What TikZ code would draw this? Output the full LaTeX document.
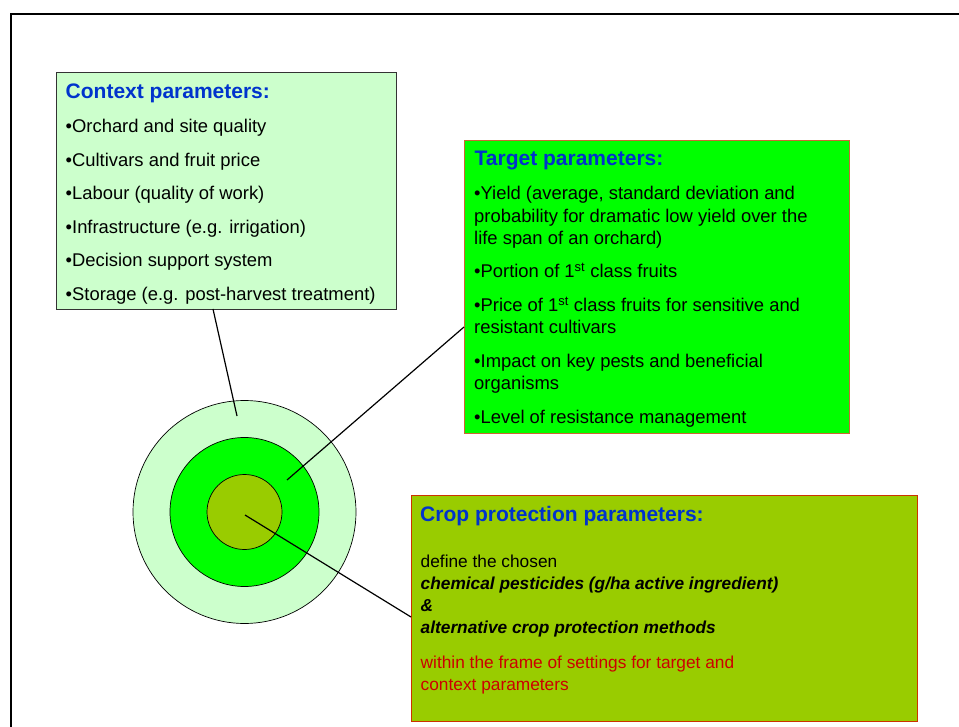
\documentclass[tikz,border=0pt]{standalone}
\usepackage{fontspec}
\setmainfont{Liberation Sans}
\definecolor{paleg}{HTML}{CCFFCC}
\definecolor{brightg}{HTML}{00FF00}
\definecolor{oliveg}{HTML}{99CC00}
\definecolor{titleblue}{HTML}{0033CC}
\definecolor{framered}{HTML}{CC3300}
\definecolor{framebrown}{HTML}{CC6633}
\definecolor{textred}{HTML}{CC0000}
\tikzset{
  box/.style={draw,rectangle,inner sep=0pt,line width=0.8pt},
  ring/.style={draw,circle,inner sep=0pt,line width=0.7pt},
  title/.style={anchor=base west,inner sep=0pt,text=titleblue,font=\fontsize{21}{25}\selectfont\bfseries},
  item/.style={anchor=base west,inner sep=0pt,font=\fontsize{18.4}{22.5}\selectfont},
  crop/.style={anchor=base west,inner sep=0pt,font=\fontsize{17.3}{21.5}\selectfont},
  link/.style={line width=1.2pt}
}
\begin{document}
\begin{tikzpicture}[x=1pt,y=-1pt]
\useasboundingbox (0,0) rectangle (959,727);
% page frame
\draw[line width=2pt] (11,727)--(11,14)--(959,14);
% rings
\node[ring,fill=paleg,minimum size=223pt] (outer) at (244.5,512) {};
\node[ring,fill=brightg,minimum size=149pt] (middle) at (244.5,512) {};
\node[ring,fill=oliveg,minimum size=75pt] (inner) at (244.5,512) {};
% boxes
\node[box,fill=paleg,draw=black!80,minimum width=340pt,minimum height=237pt] (ctx) at (226,190.5) {};
\node[box,fill=brightg,draw=framebrown,minimum width=385pt,minimum height=293pt] (tgt) at (656.5,286.5) {};
\node[box,fill=oliveg,draw=framered,minimum width=506pt,minimum height=226pt] (cpp) at (664,608) {};
% connectors
\coordinate (ctxfoot) at (213,309);
\coordinate (ctxtip) at (237,416);
\coordinate (tgtfoot) at (464,327);
\coordinate (tgttip) at (287,480);
\coordinate (cppfoot) at (411,617);
\coordinate (cpptip) at (245,515);
\draw[link] (ctxfoot)--(ctxtip);
\draw[link] (tgtfoot)--(tgttip);
\draw[link] (cpptip)--(cppfoot);
% context parameters
\node[title] (ctxtitle) at (65.5,99) {Context parameters:};
\foreach \txt [count=\i] in {Orchard and site quality,Cultivars and fruit price,Labour (quality of work),Infrastructure (e.g. irrigation),Decision support system,Storage (e.g. post-harvest treatment)}
  \node[item] (ctx\i) at (65.5,99+33.6*\i) {•\txt};
% target parameters
\node[title] (tgttitle) at (474.5,166) {Target parameters:};
\foreach \yy/\txt [count=\i] in {200/{•Yield (average, standard deviation and},222.5/probability for dramatic low yield over the,245/life span of an orchard),278/•Portion of 1\textsuperscript{st} class fruits,311.5/•Price of 1\textsuperscript{st} class fruits for sensitive and,334/resistant cultivars,367.5/•Impact on key pests and beneficial,390/organisms,423.5/•Level of resistance management}
  \node[item] (tgt\i) at (474,\yy) {\txt};
% crop protection parameters
\node[title] (cpptitle) at (420,521.5) {Crop protection parameters:};
\node[crop] (cpp1) at (420.5,567.5) {define the chosen};
\node[crop,font=\fontsize{17.3}{21.5}\selectfont\bfseries\itshape] (cpp2) at (420.5,589.5) {chemical pesticides (g/ha active ingredient)};
\node[crop,font=\fontsize{17.3}{21.5}\selectfont\bfseries\itshape] (cpp3) at (420.5,611) {\&};
\node[crop,font=\fontsize{17.3}{21.5}\selectfont\bfseries\itshape] (cpp4) at (420.5,633) {alternative crop protection methods};
\node[crop,text=textred] (cpp5) at (420.5,668.5) {within the frame of settings for target and};
\node[crop,text=textred] (cpp6) at (420.5,690.5) {context parameters};
\end{tikzpicture}
\end{document}
